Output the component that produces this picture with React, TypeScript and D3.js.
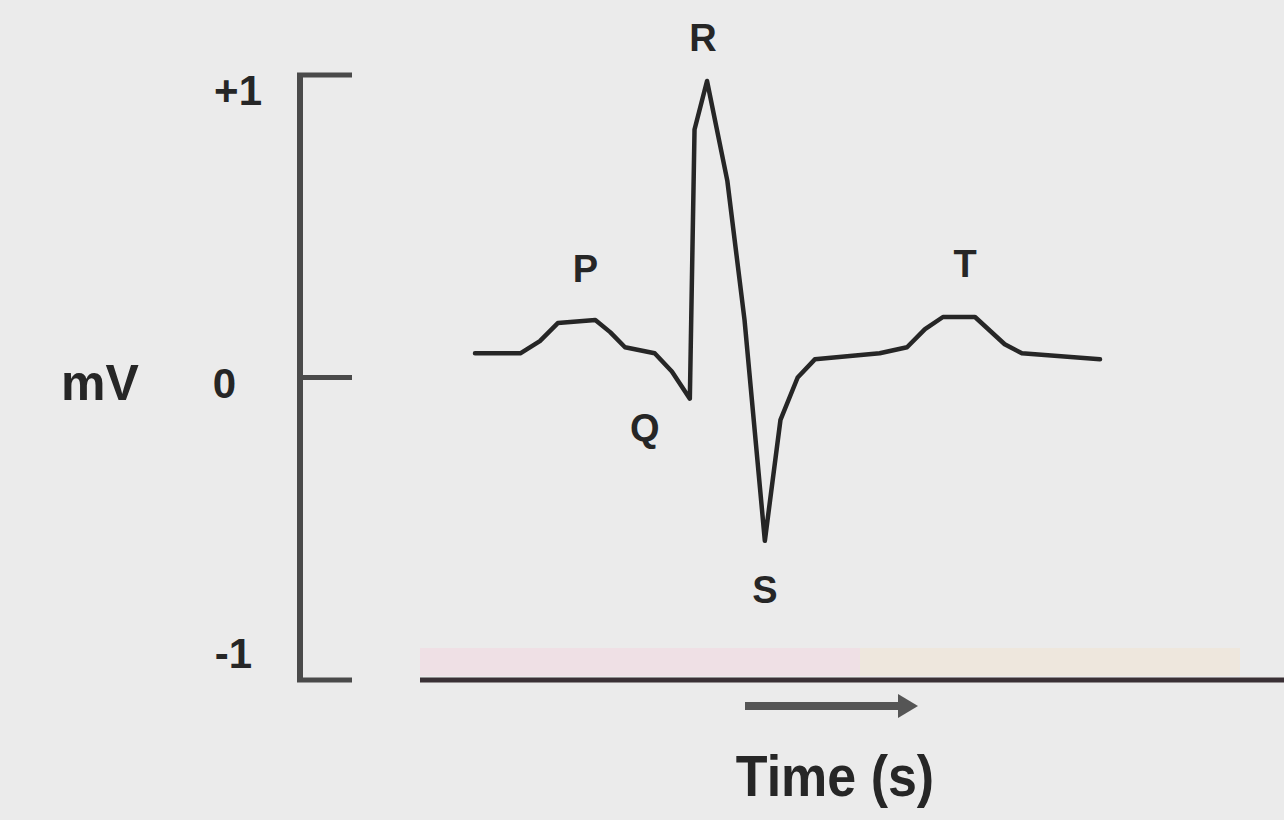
import React, { useEffect, useRef } from 'react'
import * as d3 from 'd3'

// ECG trace, one beat (time in s, voltage in mV)
const timeS = [0, 0.058, 0.083, 0.106, 0.154, 0.173, 0.192, 0.23, 0.252, 0.275, 0.281, 0.297, 0.323, 0.345, 0.371, 0.391, 0.413, 0.435, 0.518, 0.553, 0.576, 0.599, 0.64, 0.678, 0.7, 0.8]
const voltageMv = [0.08, 0.08, 0.12, 0.18, 0.19, 0.15, 0.1, 0.08, 0.02, -0.07, 0.82, 0.98, 0.65, 0.19, -0.54, -0.14, 0.0, 0.06, 0.08, 0.1, 0.16, 0.2, 0.2, 0.11, 0.08, 0.06]

// Wave names and the trace point each one marks
const waveNames = ['P', 'Q', 'R', 'S', 'T']
const wavePointIndex = [4, 9, 11, 14, 22]

// Voltage axis
const yTickValues = [1, 0, -1]
const yTickLabels = ['+1', '0', '-1']
const yAxisTitle = 'mV'
const xAxisTitle = 'Time (s)'

const W = 1284
const H = 820

export default function App() {
    const ref = useRef<SVGSVGElement>(null)

    useEffect(() => {
        const svg = d3.select(ref.current)
        svg.selectAll('*').remove()

        const font = '"Liberation Sans", Arial, sans-serif'
        const ink = '#262626'

        const xScale = d3.scaleLinear().domain([0, 0.8]).range([475, 1100])
        const yScale = d3.scaleLinear().domain([-1, 1]).range([680, 75])

        // background
        svg.append('rect').attr('width', W).attr('height', H).attr('fill', '#ebebeb')

        // faint colour fringes around the time axis
        svg.append('rect').attr('x', 420).attr('y', 648).attr('width', 440).attr('height', 28)
            .attr('fill', '#f4d3de').attr('opacity', 0.45)
        svg.append('rect').attr('x', 860).attr('y', 648).attr('width', 380).attr('height', 28)
            .attr('fill', '#f1e3cc').attr('opacity', 0.45)

        // voltage axis
        const axisX = 300
        svg.append('line')
            .attr('x1', axisX).attr('x2', axisX)
            .attr('y1', yScale(1)).attr('y2', yScale(-1))
            .attr('stroke', '#4a4a4a').attr('stroke-width', 6)

        const labelX = [262, 236, 252]
        const labelDy = [30, 20, -12]
        yTickValues.forEach((v, i) => {
            svg.append('line')
                .attr('x1', axisX - 3).attr('x2', axisX + 52)
                .attr('y1', yScale(v)).attr('y2', yScale(v))
                .attr('stroke', '#4a4a4a').attr('stroke-width', 5)
            svg.append('text')
                .text(yTickLabels[i])
                .attr('x', labelX[i])
                .attr('y', yScale(v) + labelDy[i])
                .attr('text-anchor', 'end')
                .attr('font-family', font)
                .attr('font-weight', 'bold')
                .attr('font-size', '42px')
                .attr('fill', ink)
        })

        svg.append('text')
            .text(yAxisTitle)
            .attr('x', 100)
            .attr('y', yScale(0) + 22)
            .attr('text-anchor', 'middle')
            .attr('font-family', font)
            .attr('font-weight', 'bold')
            .attr('font-size', '50px')
            .attr('fill', ink)

        // time axis
        svg.append('line')
            .attr('x1', 420).attr('x2', W)
            .attr('y1', yScale(-1)).attr('y2', yScale(-1))
            .attr('stroke', '#3a3035').attr('stroke-width', 5)

        // time arrow
        svg.append('line')
            .attr('x1', 745).attr('x2', 900)
            .attr('y1', 706).attr('y2', 706)
            .attr('stroke', '#555').attr('stroke-width', 8)
        svg.append('path')
            .attr('d', 'M898,694 L918,706 L898,718 Z')
            .attr('fill', '#555')

        svg.append('text')
            .text(xAxisTitle)
            .attr('transform', 'translate(835,796) scale(1.0,1.12)')
            .attr('text-anchor', 'middle')
            .attr('font-family', font)
            .attr('font-weight', 'bold')
            .attr('font-size', '52px')
            .attr('fill', ink)

        // ECG trace
        const points: [number, number][] = timeS.map((t, i) => [t, voltageMv[i]])
        const line = d3.line<[number, number]>()
            .x(d => xScale(d[0]))
            .y(d => yScale(d[1]))
            .curve(d3.curveLinear)

        svg.append('path')
            .datum(points)
            .attr('d', line)
            .attr('fill', 'none')
            .attr('stroke', ink)
            .attr('stroke-width', 4.5)
            .attr('stroke-linejoin', 'round')
            .attr('stroke-linecap', 'round')

        // wave labels
        const labelOffset = [[-10, -38], [-45, 42], [-4, -30], [0, 62], [-10, -40]]
        waveNames.forEach((name, i) => {
            const p = points[wavePointIndex[i]]
            svg.append('text')
                .text(name)
                .attr('x', xScale(p[0]) + labelOffset[i][0])
                .attr('y', yScale(p[1]) + labelOffset[i][1])
                .attr('text-anchor', 'middle')
                .attr('font-family', font)
                .attr('font-weight', 'bold')
                .attr('font-size', '38px')
                .attr('fill', ink)
        })
    }, [])

    return (
        <svg ref={ref} width={W} height={H} style={{ position: 'absolute', left: 0, top: 0 }} />
    )
}
